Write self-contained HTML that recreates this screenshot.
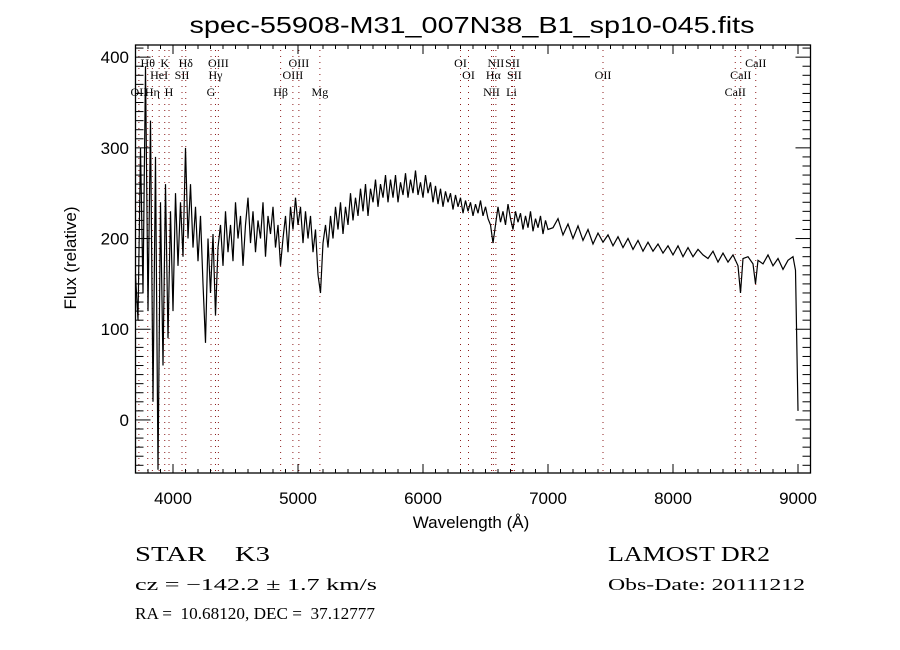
<!DOCTYPE html>
<html><head><meta charset="utf-8"><style>
html,body{margin:0;padding:0;background:#fff;}
svg{display:block;}
text{font-family:"Liberation Sans",sans-serif;fill:#000;}
.lb{font-family:"Liberation Serif",serif;font-size:12px;}
.ser{font-family:"Liberation Serif",serif;}
</style></head><body>
<svg id="chart" width="900" height="650" viewBox="0 0 900 650" xmlns="http://www.w3.org/2000/svg">
<rect width="900" height="650" fill="#fff"/>
<text x="472" y="33" font-size="23" text-anchor="middle" textLength="565" lengthAdjust="spacingAndGlyphs">spec-55908-M31_007N38_B1_sp10-045.fits</text>
<g id="lines"></g>
<g id="labels"></g>
<g id="spec"></g>
<g id="axes"></g>
<text x="471" y="528" font-size="17" text-anchor="middle">Wavelength (Å)</text>
<text transform="translate(76,258) rotate(-90)" font-size="17" text-anchor="middle">Flux (relative)</text>
<text class="ser" x="135" y="561" font-size="21" xml:space="preserve" textLength="135" lengthAdjust="spacingAndGlyphs">STAR    K3</text>
<text class="ser" x="608" y="561" font-size="21" textLength="162" lengthAdjust="spacingAndGlyphs">LAMOST DR2</text>
<text class="ser" x="135" y="590" font-size="17" textLength="242" lengthAdjust="spacingAndGlyphs">cz = −142.2 ± 1.7 km/s</text>
<text class="ser" x="608" y="590" font-size="17" textLength="197" lengthAdjust="spacingAndGlyphs">Obs-Date: 20111212</text>
<text class="ser" x="135" y="619" font-size="17" xml:space="preserve" textLength="240" lengthAdjust="spacingAndGlyphs">RA =  10.68120, DEC =  37.12777</text>
</svg>
<script>
const wave = [3700,3720,3740,3760,3780,3800,3820,3840,3860,3880,3900,3920,3940,3960,3980,4000,4020,4040,4060,4080,4100,4120,4140,4160,4180,4200,4220,4240,4260,4280,4300,4320,4340,4360,4380,4400,
4420,4440,4460,4480,4500,4520,4540,4560,4580,4600,4620,4640,4660,4680,4700,4720,4740,4760,4780,4800,4820,4840,4860,4880,4900,4920,4940,4960,4980,5000,
5020,5040,5060,5080,5100,5120,5140,5160,5180,5200,5220,5240,5260,5280,5300,5320,5340,5360,5380,5400,5420,5440,5460,5480,5500,5520,5540,5560,5580,5600,5620,5640,5660,5680,5700,5720,5740,5760,5780,5800,5820,5840,5860,5880,5900,5920,5940,5960,5980,6000,
6020,6040,6060,6080,6100,6120,6140,6160,6180,6200,6220,6240,6260,6280,6300,6320,6340,6360,6380,6400,6420,6440,6460,6480,6500,6520,6540,6560,6580,6600,6620,6640,6660,6680,6700,6720,6740,6760,6780,6800,6820,6840,6860,6880,6900,6920,6940,6960,6980,7000,
7040,7080,7120,7160,7200,7240,7280,7320,7360,7400,7440,7480,7520,7560,7600,7640,7680,7720,7760,7800,7840,7880,7920,7960,8000,8040,8080,8120,8160,8200,8240,8280,8320,8360,8400,8440,8480,8520,8540,8560,8600,8640,8660,8680,8720,8760,8800,8840,8880,8920,8960,8980,9000];
const flux = [160,110,300,140,390,120,330,20,290,-55,240,60,260,90,230,120,250,170,240,180,300,200,260,190,235,175,225,150,85,200,140,205,115,190,215,170,
230,185,215,175,240,200,225,170,215,245,195,230,185,220,200,240,180,225,205,235,190,215,170,200,225,185,235,210,245,215,
235,195,230,200,225,185,210,160,140,195,215,190,225,200,235,210,240,205,235,215,250,220,245,225,255,230,260,225,255,240,265,235,260,245,270,240,265,245,270,240,262,248,272,245,265,250,275,248,262,245,
270,250,262,240,258,238,255,235,252,240,250,232,248,235,245,228,242,230,240,225,238,228,242,225,235,222,215,195,215,235,218,230,215,238,222,210,230,218,228,210,225,212,230,208,222,212,225,205,220,210,
212,222,204,216,200,214,198,210,194,206,196,204,192,202,190,200,188,198,186,196,186,194,184,192,182,192,180,190,180,188,182,178,186,174,184,174,182,170,140,178,180,172,150,176,172,182,170,178,166,176,180,165,10];
const xTicks = [4000,5000,6000,7000,8000,9000];
const yTicks = [0,100,200,300,400];
const lineWaves = [3727,3798,3835,3889,3934,3968,4072,4102,4304,4340,4363,4861,4959,5007,5175,6300,6364,6548,6563,6583,6708,6716,6731,7440,8498,8542,8662];
const lineNames = ["OII","Hθ","Hη","HeI","K","H","SII","Hδ","G","Hγ","OIII","Hβ","OIII","OIII","Mg","OI","OI","NII","Hα","NII","Li","SII","SII","OII","CaII","CaII","CaII"];
const lineRows = [3,1,3,2,1,3,2,1,3,2,1,3,2,1,3,1,2,3,2,1,3,1,2,2,3,2,1];

const X0=135.5,X1=810.5,Y0=473,Y1=45,XMIN=3700,XMAX=9100,YMIN=-58.5,YMAX=413.4;
const sx=v=>X0+(v-XMIN)/(XMAX-XMIN)*(X1-X0);
const sy=v=>Y0-(v-YMIN)/(YMAX-YMIN)*(Y0-Y1);
const NS="http://www.w3.org/2000/svg";
function mk(tag,attrs,parent){const e=document.createElementNS(NS,tag);for(const k in attrs)e.setAttribute(k,attrs[k]);parent.appendChild(e);return e;}

const gl=document.getElementById('lines'), glab=document.getElementById('labels');
const rowY={1:67,2:79,3:96};
lineWaves.forEach((w,i)=>{
  const x=sx(w);
  const l=mk('line',{x1:x,x2:x,y1:Y1+5,y2:Y0,stroke:'#8b1a1a','stroke-width':1,'stroke-dasharray':'1,5'},gl);
  
  
  const t=mk('text',{x:x,y:rowY[lineRows[i]],'text-anchor':'middle',class:'lb'},glab);
  t.textContent=lineNames[i];
  
  
});

const gs=document.getElementById('spec');
let d='';
wave.forEach((w,i)=>{const y=Math.max(Y1,Math.min(Y0,sy(flux[i])));d+=(i?'L':'M')+sx(w).toFixed(1)+','+y.toFixed(1);});
const p=mk('path',{d:d,fill:'none',stroke:'#000','stroke-width':1.2},gs);



const ga=document.getElementById('axes');
const fr=mk('rect',{x:X0,y:Y1,width:X1-X0,height:Y0-Y1,fill:'none',stroke:'#000','stroke-width':1.3},ga);


for(let w=XMIN;w<=XMAX;w+=100){
  const x=sx(w),maj=w%1000===0,len=maj?9:4;
  mk('line',{x1:x,x2:x,y1:Y0,y2:Y0-len,stroke:'#000'},ga);
  mk('line',{x1:x,x2:x,y1:Y1,y2:Y1+len,stroke:'#000'},ga);
}
for(let v=-50;v<=410;v+=10){
  const y=sy(v),maj=v%100===0,len=maj?15:8;
  mk('line',{x1:X0,x2:X0+len,y1:y,y2:y,stroke:'#000'},ga);
  mk('line',{x1:X1,x2:X1-len,y1:y,y2:y,stroke:'#000'},ga);
}
xTicks.forEach(v=>{const t=mk('text',{x:sx(v),y:504,'font-size':17,'text-anchor':'middle'},ga);t.textContent=v;
  
  });
yTicks.forEach(v=>{const t=mk('text',{x:129,y:sy(v)+6,'font-size':17,'text-anchor':'end'},ga);t.textContent=v;
  
  });
</script>
</body></html>
